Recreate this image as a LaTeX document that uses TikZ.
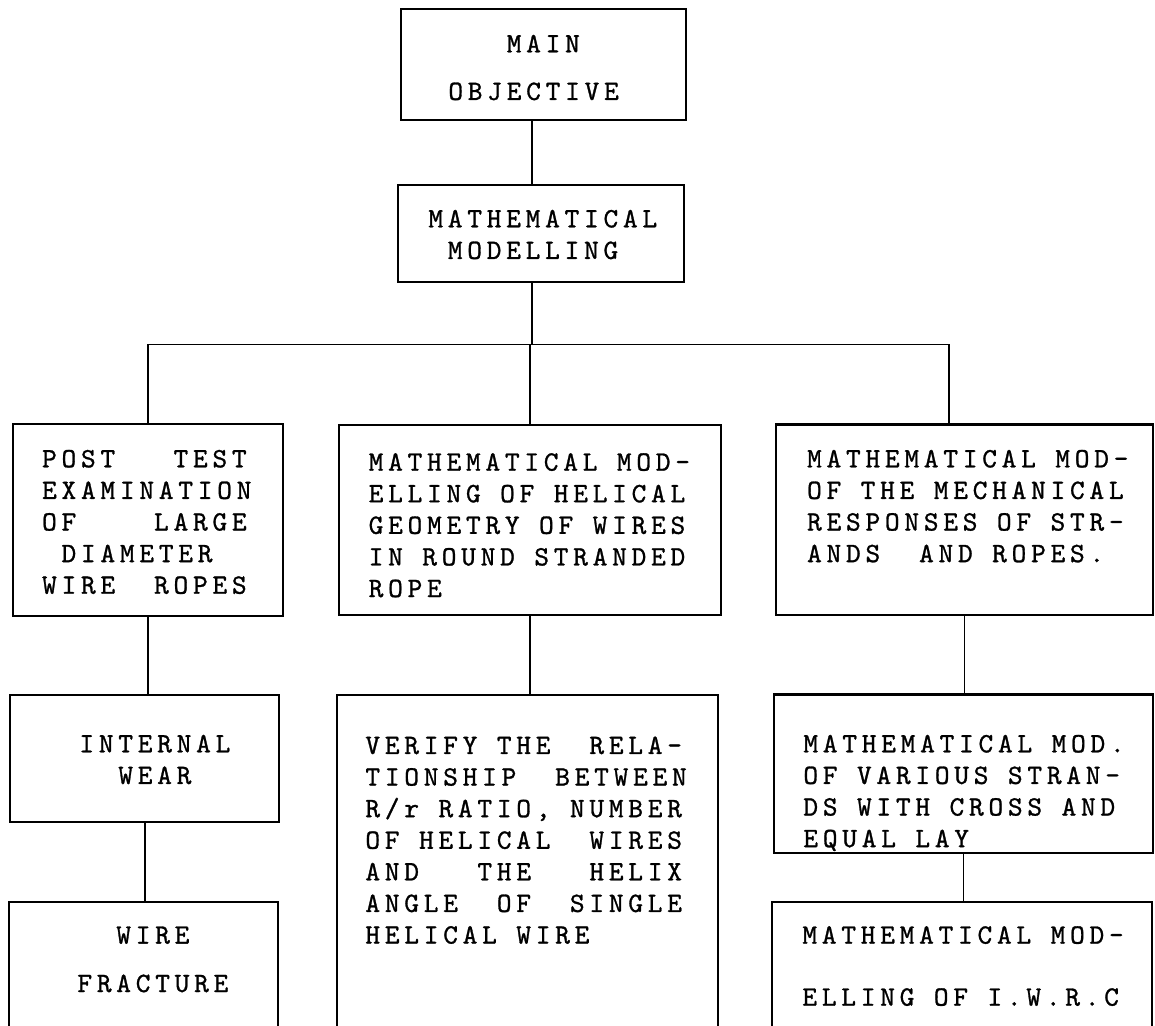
\documentclass[tikz,border=0pt]{standalone}
\usepackage{fontspec}
\setmonofont{lmmono10-regular.otf}[LetterSpace=17, WordSpace=1, FakeBold=1]
\usetikzlibrary{calc,fit}

\begin{document}
\begin{tikzpicture}[x=0.5pt, y=-0.5pt]
  \pgfmathsetmacro{\capht}{17.2} % cap height of the box text, px

  \tikzset{
    box frame/.style={draw, line width=1.15pt, inner sep=0pt, outer sep=0pt},
    box text/.style={font=\ttfamily\fontsize{14}{15.8}\selectfont\frenchspacing,
                     align=left, inner sep=0pt, anchor=north west},
    link/.style={line width=0.9pt},
  }

  % name, top left, bottom right, text start (dx, first baseline), text
  \newcommand{\drawbox}[5]{
    \node[box frame, fit={#2 #3}] (#1) {};
    \node[box text] (#1 text) at ($(#1.north west)+#4+(0,-\capht)$) {#5};
  }

  \useasboundingbox (0,0) rectangle (1155,1026);
  \clip (0,0) rectangle (1155,1026);

  \drawbox{main}{(401,9)}{(686,120)}{(47,42.7)}{~~~MAIN\\[8pt]OBJECTIVE}
  \drawbox{math}{(398,185)}{(684,282)}{(30,41.7)}{MATHEMATICAL\\~MODELLING}

  % second row
  \drawbox{post}{(12.7,424)}{(282.7,616)}{(29,42.7)}{%
    POST~~~TEST\\EXAMINATION\\OF~~~~LARGE\\~DIAMETER\\WIRE~~ROPES}
  \drawbox{helix}{(339,425)}{(721,615)}{(29.3,45)}{%
    MATHEMATICAL MOD-\\ELLING OF HELICAL\\GEOMETRY OF WIRES\\IN ROUND STRANDED\\ROPE}
  \drawbox{mech}{(776,424.5)}{(1153,615)}{(30.7,42.2)}{%
    MATHEMATICAL MOD-\\OF THE MECHANICAL\\RESPONSES OF STR-\\ANDS~~AND ROPES.}

  % third row
  \drawbox{wear}{(10,695)}{(279.3,822)}{(69,56.7)}{INTERNAL\\~~WEAR}
  \drawbox{verify}{(337.3,695)}{(717.7,1050)}{(27.7,58.3)}{%
    VERIFY THE~~RELA-\\TIONSHIP~~BETWEEN\\R/r RATIO, NUMBER\\OF HELICAL~~WIRES\\%
    AND~~~THE~~~HELIX\\ANGLE~~OF~~SINGLE\\HELICAL WIRE}
  \drawbox{strand}{(774,694.5)}{(1153,853)}{(29,57.2)}{%
    MATHEMATICAL MOD.\\OF VARIOUS STRAN-\\DS WITH CROSS AND\\EQUAL LAY}

  % fourth row
  \drawbox{fracture}{(9.3,902)}{(278.3,1050)}{(67.7,41.3)}{~~WIRE\\[8.4pt]FRACTURE}
  \drawbox{iwrc}{(772,902)}{(1151.7,1050)}{(30,41)}{MATHEMATICAL MOD-\\[15.2pt]ELLING OF I.W.R.C}

  % connectors
  \coordinate (trunk) at (532,344.5);
  \coordinate (busR) at (949,344.5);
  \draw[link] (main.south -| trunk) -- (math.north -| trunk);
  \draw[link] (math.south -| trunk) -- (trunk);
  \draw[link] (post.north) |- (busR) -- (busR |- mech.north);
  \draw[link] (helix.north) -- (helix.north |- trunk);
  \draw[link] (post.south) -- (post.south |- wear.north);
  \draw[link] (helix.south) -- (helix.south |- verify.north);
  \draw[link] (mech.south) -- (mech.south |- strand.north);
  \draw[link] (wear.south) -- (wear.south |- fracture.north);
  \draw[link] (strand.south) -- (strand.south |- iwrc.north);
\end{tikzpicture}
\end{document}
